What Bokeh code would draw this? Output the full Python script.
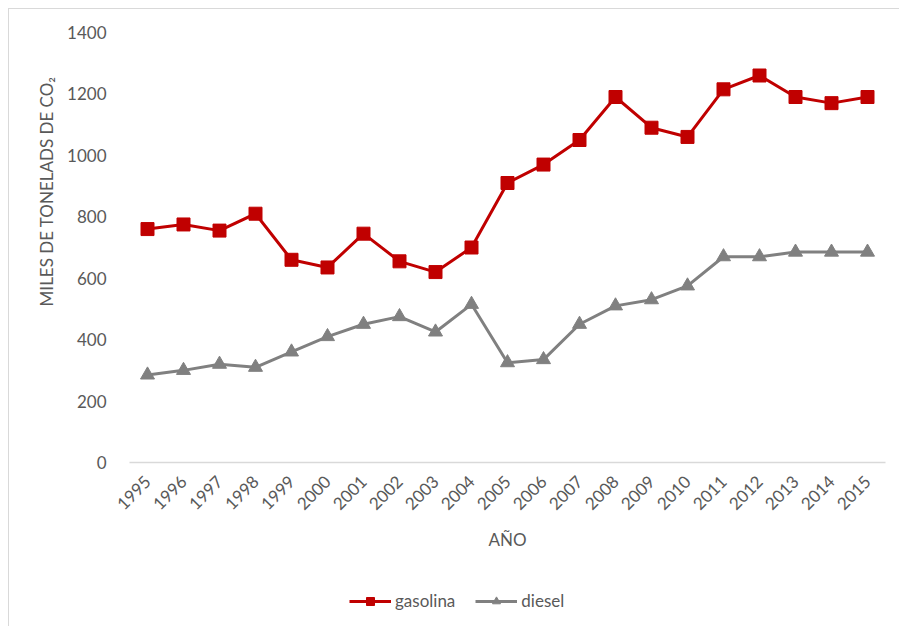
import math
from bokeh.plotting import figure
from bokeh.layouts import column
from bokeh.models import Legend, LegendItem, Title, FixedTicker, ColumnDataSource
from bokeh.embed import file_html
from bokeh.resources import INLINE

years = list(range(1995, 2016))
gasolina = [760, 775, 755, 810, 660, 635, 745, 655, 620, 700, 910, 970, 1050, 1190,
            1090, 1060, 1215, 1260, 1190, 1170, 1190]
diesel = [285, 300, 320, 310, 360, 410, 450, 475, 425, 515, 325, 335, 450, 510,
          530, 575, 670, 670, 685, 685, 685]
y_ticks = [0, 200, 400, 600, 800, 1000, 1200, 1400]

FONT = "Lato"
TXT = "#595959"
RED = "#C00000"
GREY = "#808080"

src = ColumnDataSource(dict(year=years, gasolina=gasolina, diesel=diesel))

p = figure(width=891, height=553, frame_width=756, frame_height=430,
           min_border_left=120, min_border_top=23, min_border_right=15, min_border_bottom=100,
           x_range=(1994.5, 2015.5), y_range=(0, 1400),
           output_backend="svg", toolbar_location=None)
p.outline_line_color = None
p.xgrid.visible = False
p.ygrid.visible = False

# x axis
p.xaxis.ticker = FixedTicker(ticks=years)
p.xaxis.major_label_orientation = math.pi / 4
p.xaxis.major_tick_line_color = None
p.xaxis.minor_tick_line_color = None
p.xaxis.axis_line_color = "#d9d9d9"
p.xaxis.axis_line_width = 1.5
p.xaxis.major_label_text_font = FONT
p.xaxis.major_label_text_font_size = "17px"
p.xaxis.major_label_text_color = TXT
p.xaxis.major_label_standoff = 10
p.xaxis.axis_label = "AÑO"
p.xaxis.axis_label_text_font = FONT
p.xaxis.axis_label_text_font_size = "17px"
p.xaxis.axis_label_text_font_style = "normal"
p.xaxis.axis_label_text_color = TXT
p.xaxis.axis_label_standoff = 10

# y axis
p.yaxis.ticker = FixedTicker(ticks=y_ticks)
p.yaxis.major_tick_line_color = None
p.yaxis.minor_tick_line_color = None
p.yaxis.axis_line_color = None
p.yaxis.major_label_text_font = FONT
p.yaxis.major_label_text_font_size = "17px"
p.yaxis.major_label_text_color = TXT
p.yaxis.major_label_standoff = 17

ytitle = Title(text="MILES DE TONELADS DE CO₂", align="right", offset=44,
               text_font=FONT, text_font_size="17px", text_font_style="normal",
               text_color=TXT, standoff=16)
p.add_layout(ytitle, "left")

p.line("year", "gasolina", source=src, line_color=RED, line_width=3)
p.scatter("year", "gasolina", source=src, marker="square", size=13,
          fill_color=RED, line_color=RED)
p.line("year", "diesel", source=src, line_color=GREY, line_width=3)
p.scatter("year", "diesel", source=src, marker="triangle", size=14,
          fill_color=GREY, line_color=GREY)

# legend strip: same series, view window kept off the data so only the legend shows
leg = figure(width=891, height=65, x_range=(0, 1), y_range=(0, 1),
             x_axis_type=None, y_axis_type=None,
             min_border_left=0, min_border_right=0, min_border_top=0, min_border_bottom=0,
             output_backend="svg", toolbar_location=None)
leg.outline_line_color = None
leg.xgrid.visible = False
leg.ygrid.visible = False
lg_line = leg.line("year", "gasolina", source=src, line_color=RED, line_width=3)
lg_mark = leg.scatter("year", "gasolina", source=src, marker="square", size=13,
                      fill_color=RED, line_color=RED)
ld_line = leg.line("year", "diesel", source=src, line_color=GREY, line_width=3)
ld_mark = leg.scatter("year", "diesel", source=src, marker="triangle", size=14,
                      fill_color=GREY, line_color=GREY)

legend = Legend(items=[LegendItem(label="gasolina", renderers=[lg_line, lg_mark]),
                       LegendItem(label="diesel", renderers=[ld_line, ld_mark])],
                orientation="horizontal", location=(220, 16),
                glyph_width=42, glyph_height=20, label_standoff=4, spacing=20,
                padding=0, margin=0,
                border_line_alpha=0, background_fill_alpha=0,
                label_text_font=FONT, label_text_font_size="17px", label_text_color=TXT)
leg.add_layout(legend)

layout = column(p, leg, spacing=0, margin=(8, 0, 0, 8),
                styles={"border-left": "1px solid #d9d9d9", "border-top": "1px solid #d9d9d9"})

open("out.html", "w").write(file_html(layout, INLINE))
